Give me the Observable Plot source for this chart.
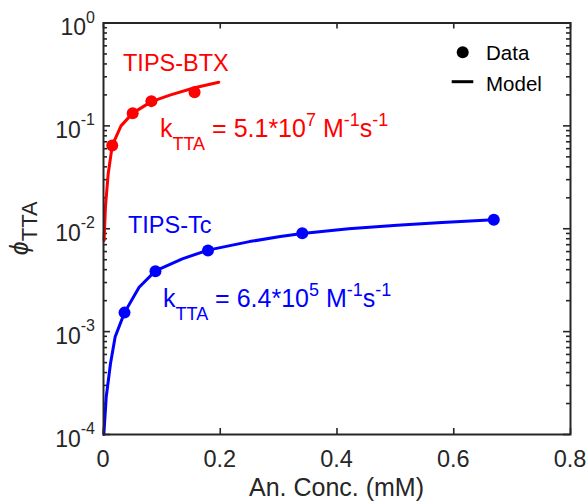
<!DOCTYPE html>
<html>
<head>
<meta charset="utf-8">
<script src="https://cdn.jsdelivr.net/npm/d3@7"></script>
<script src="https://cdn.jsdelivr.net/npm/@observablehq/plot@0.6"></script>
<style>
  body { margin: 0; background: #fff; }
  svg { display: block; }
  text { white-space: pre; }
</style>
</head>
<body>
<div id="chart"></div>
<script>
// ---------- data ----------
const btxConc = [0.015, 0.050, 0.082, 0.156];
const btxPhi  = [0.0645, 0.133, 0.174, 0.2126];
const tcConc  = [0.036, 0.089, 0.179, 0.3405, 0.6686];
const tcPhi   = [0.00153, 0.00387, 0.00615, 0.00906, 0.01223];

const btxModelConc = [0.001, 0.0034, 0.008, 0.015, 0.030, 0.050, 0.082, 0.115, 0.156, 0.1975];
const btxModelPhi  = [0.0077, 0.0165, 0.034, 0.0645, 0.100, 0.133, 0.172, 0.200, 0.235, 0.266];
const tcModelConc  = [0.0006, 0.0046, 0.012, 0.020, 0.036, 0.061, 0.089, 0.135, 0.179, 0.25, 0.303, 0.3405, 0.42, 0.503, 0.58, 0.6686];
const tcModelPhi   = [0.0001, 0.00023, 0.00049, 0.00089, 0.00153, 0.0027, 0.0039, 0.0051, 0.0062, 0.0075, 0.0084, 0.0090, 0.0100, 0.0108, 0.0115, 0.0122];

const xTicks = [0, 0.2, 0.4, 0.6, 0.8];
const xTickLabels = ["0", "0.2", "0.4", "0.6", "0.8"];
const yTicks = [1e-4, 1e-3, 1e-2, 1e-1, 1];
const yTickExps = ["-4", "-3", "-2", "-1", "0"];
const minorMultipliers = [2, 3, 4, 5, 6, 7, 8, 9];

const seriesNames = ["TIPS-BTX", "TIPS-Tc"];
const kValues = ["5.1*10", "6.4*10"];
const kExps = ["7", "5"];
const legendLabels = ["Data", "Model"];
const xLabel = "An. Conc. (mM)";

// ---------- layout / style ----------
const W = 587, H = 502;
const M = {top: 22.5, right: 17, bottom: 68, left: 103};
const innerW = W - M.left - M.right, innerH = H - M.top - M.bottom;
const axisColor = "#262626";
const RED = "#ff0000", BLUE = "#0000ff";
const FONT = "'Liberation Sans', Arial, Helvetica, sans-serif";

const toRows = (xs, ys) => xs.map((x, i) => ({x, y: ys[i]}));
const btxData = toRows(btxConc, btxPhi);
const tcData = toRows(tcConc, tcPhi);
const btxModel = toRows(btxModelConc, btxModelPhi);
const tcModel = toRows(tcModelConc, tcModelPhi);
const yMinor = yTicks.slice(0, -1).flatMap(d => minorMultipliers.map(m => m * d));

const tickStyle = {stroke: axisColor, strokeWidth: 1.6};

const plot = Plot.plot({
  width: W, height: H,
  marginTop: M.top, marginRight: M.right, marginBottom: M.bottom, marginLeft: M.left,
  x: {domain: [0, 0.8], axis: null},
  y: {type: "log", domain: [1e-4, 1], axis: null},
  style: {background: "white", overflow: "visible"},
  marks: [
    Plot.ruleX(xTicks, {...tickStyle, insetTop: innerH - 6}),
    Plot.ruleX(xTicks, {...tickStyle, insetBottom: innerH - 6}),
    Plot.ruleY(yTicks, {...tickStyle, insetRight: innerW - 7}),
    Plot.ruleY(yTicks, {...tickStyle, insetLeft: innerW - 7}),
    Plot.ruleY(yMinor, {...tickStyle, insetRight: innerW - 4}),
    Plot.ruleY(yMinor, {...tickStyle, insetLeft: innerW - 4}),
    Plot.line(btxModel, {x: "x", y: "y", stroke: RED, strokeWidth: 3}),
    Plot.line(tcModel, {x: "x", y: "y", stroke: BLUE, strokeWidth: 3}),
    Plot.dot(btxData, {x: "x", y: "y", r: 6, fill: RED}),
    Plot.dot(tcData, {x: "x", y: "y", r: 6, fill: BLUE}),
    Plot.frame({stroke: axisColor, strokeWidth: 2})
  ]
});

const sx = plot.scale("x"), sy = plot.scale("y");
const svg = d3.select(plot);
const g = svg.append("g").attr("font-family", FONT);

function rich(x, y, parts, o) {
  const t = g.append("text")
    .attr("x", x).attr("y", y)
    .attr("fill", o.fill || axisColor)
    .attr("font-size", o.size)
    .attr("text-anchor", o.anchor || "start");
  if (o.transform) t.attr("transform", o.transform);
  let shift = 0;
  parts.forEach(p => {
    const target = p.sub ? (o.subShift || 0) : p.sup ? -(o.supShift || 0) : 0;
    const ts = t.append("tspan").text(p.t);
    if (target - shift !== 0) ts.attr("dy", target - shift);
    if (p.sub || p.sup) ts.attr("font-size", o.small);
    if (p.italic) ts.attr("font-style", "italic");
    if (p.size) ts.attr("font-size", p.size);
    shift = target;
  });
  return t;
}

const x0 = sx.apply(0), x1 = sx.apply(0.8);
const yTop = sy.apply(1), yBot = sy.apply(1e-4);

// y tick labels
yTicks.forEach((v, i) => {
  rich(x0 - 8, sy.apply(v) + 12.5, [{t: "10"}, {t: yTickExps[i], sup: true}],
       {size: 23, small: 16, supShift: 12.5, anchor: "end"});
});
// x tick labels
xTicks.forEach((v, i) => {
  rich(sx.apply(v), yBot + 33, [{t: xTickLabels[i]}], {size: 23.5, anchor: "middle"});
});
// x axis title
rich((x0 + x1) / 2, yBot + 62, [{t: xLabel}], {size: 25, anchor: "middle"});
// y axis title
rich(0, 0, [{t: "\u03D5", italic: true, size: 25}, {t: "TTA", sub: true}],
     {size: 25, small: 22, subShift: 9, anchor: "middle",
      transform: `translate(28,${(yTop + yBot) / 2}) rotate(-90)`});

// series annotations (anchored in data coordinates)
const annot = [
  {name: seriesNames[0], color: RED, nameAt: [0.0343, 0.340], kAt: [0.0976, 0.0771], k: kValues[0], e: kExps[0]},
  {name: seriesNames[1], color: BLUE, nameAt: [0.0428, 0.0090], kAt: [0.1028, 0.00172], k: kValues[1], e: kExps[1]}
];
annot.forEach(a => {
  rich(sx.apply(a.nameAt[0]), sy.apply(a.nameAt[1]), [{t: a.name}], {size: 23.5, fill: a.color});
  rich(sx.apply(a.kAt[0]), sy.apply(a.kAt[1]),
       [{t: "k"}, {t: "TTA", sub: true}, {t: " = " + a.k}, {t: a.e, sup: true},
        {t: " M"}, {t: "-1", sup: true}, {t: "s"}, {t: "-1", sup: true}],
       {size: 25, small: 18, subShift: 13, supShift: 11, fill: a.color});
});

// legend (top-right, inside the frame)
const lg = g.append("g");
lg.append("circle").attr("cx", x1 - 107.3).attr("cy", yTop + 29.8).attr("r", 6).attr("fill", "black");
lg.append("line").attr("x1", x1 - 118.3).attr("x2", x1 - 96.7)
  .attr("y1", yTop + 59.2).attr("y2", yTop + 59.2).attr("stroke", "black").attr("stroke-width", 3);
rich(x1 - 84, yTop + 37.5, [{t: legendLabels[0]}], {size: 20.5, fill: "black"});
rich(x1 - 84, yTop + 68.2, [{t: legendLabels[1]}], {size: 20.5, fill: "black"});

document.getElementById("chart").appendChild(plot);
</script>
</body>
</html>
